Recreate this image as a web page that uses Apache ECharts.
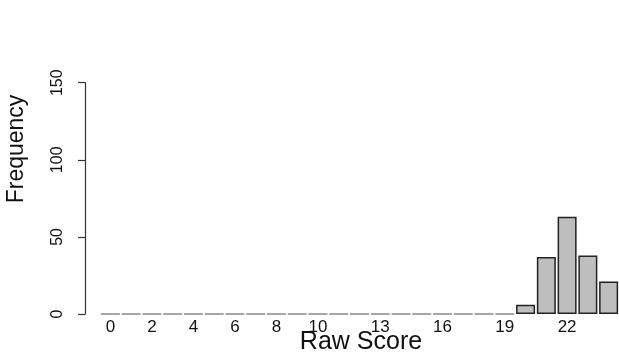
<!DOCTYPE html>
<html>
<head>
<meta charset="utf-8">
<script src="https://cdn.jsdelivr.net/npm/echarts@6/dist/echarts.min.js"></script>
<style>
  html, body { margin: 0; padding: 0; background: #fff; }
  #chart { width: 619px; height: 353px; }
</style>
</head>
<body>
<div id="chart"></div>
<script>
// 数据
var scores = ['0','1','2','3','4','5','6','7','8','9','10','11','12',
  '13','14','15','16','17','18','19','20','21','22','23','24'];
var freq = [0,0,0,0,0,0,0,0,0,0,0,0,0,0,0,0,0,0,0,0,6,37,63,38,21];
var shownLabels = ['0','2','4','6','8','10','13','16','19','22'];
var yTicks = [0, 50, 100, 150];

var font = 'Liberation Sans, Arial, sans-serif';
var chart = echarts.init(document.getElementById('chart'));

// 零值的柱子画成灰色短线
var barData = freq.map(function (v) {
  return v === 0
    ? { value: v, itemStyle: { borderColor: '#8a8a8a' } }
    : v;
});

var option = {
  animation: false,
  grid: {
    left: 100,
    top: 82.7,
    width: 525,
    bottom: 39
  },
  xAxis: {
    type: 'category',
    data: scores,
    axisLine: { show: false },
    axisTick: { show: false },
    axisLabel: {
      interval: function (i, v) { return shownLabels.indexOf(v) >= 0; },
      margin: 5,
      fontSize: 17,
      fontFamily: font,
      color: '#111'
    }
  },
  yAxis: {
    type: 'value',
    min: yTicks[0],
    max: yTicks[yTicks.length - 1],
    interval: 50,
    offset: 15,
    axisLine: { show: true, lineStyle: { color: '#333', width: 1.2 } },
    axisTick: { show: true, length: 7, lineStyle: { color: '#333', width: 1.2 } },
    splitLine: { show: false },
    axisLabel: {
      rotate: 90,
      margin: 19,
      fontSize: 16,
      fontFamily: font,
      color: '#111'
    }
  },
  graphic: [{
    type: 'text',
    x: 17,
    y: 149,
    rotation: Math.PI / 2,
    style: {
      text: 'Frequency',
      fontSize: 23,
      fontFamily: font,
      fill: '#111',
      align: 'center',
      verticalAlign: 'middle'
    }
  }, {
    type: 'text',
    x: 361,
    y: 342,
    style: {
      text: 'Raw Score',
      fontSize: 25,
      fontFamily: font,
      fill: '#111',
      align: 'center',
      verticalAlign: 'middle'
    }
  }],
  series: [{
    type: 'bar',
    data: barData,
    barWidth: 19,
    itemStyle: {
      color: '#bebebe',
      borderColor: '#222',
      borderWidth: 1.5
    }
  }]
};
chart.setOption(option);
</script>
</body>
</html>
